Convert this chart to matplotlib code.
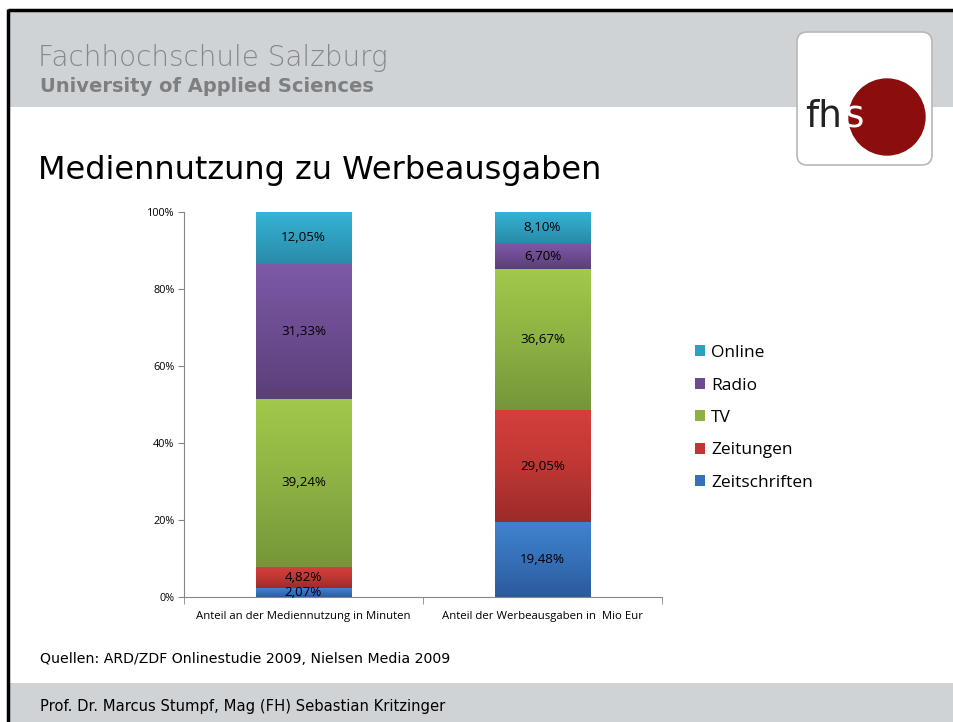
import matplotlib.pyplot as plt
import numpy as np
from matplotlib.patches import Rectangle, FancyBboxPatch, Circle
from matplotlib.colors import LinearSegmentedColormap

# data (labels as printed, bars are normalised to 100%)
categories = ['Anteil an der Mediennutzung in Minuten', 'Anteil der Werbeausgaben in  Mio Eur']
series = ['Zeitschriften', 'Zeitungen', 'TV', 'Radio', 'Online']
zeitschriften = [2.07, 19.48]
zeitungen = [4.82, 29.05]
tv = [39.24, 36.67]
radio = [31.33, 6.70]
online = [12.05, 8.10]
values = [zeitschriften, zeitungen, tv, radio, online]

col_top = ['#3f83d0', '#d43f3c', '#a2c94b', '#7e59a6', '#36b3d6']
col_bot = ['#2b5b9a', '#9c2b29', '#75963a', '#5a3f78', '#2a8ba7']
col_mid = ['#3670b8', '#bf3734', '#8db243', '#6d4c91', '#2f9fbf']

W, H = 954, 722
fig = plt.figure(figsize=(W / 100, H / 100), dpi=100)

# slide background
bg = fig.add_axes([0, 0, 1, 1])
bg.set_xlim(0, W)
bg.set_ylim(H, 0)
bg.axis('off')
bg.add_patch(Rectangle((8, 10), W, 97, color='#d0d3d6', lw=0))
bg.add_patch(Rectangle((8, 683), W, 40, color='#d0d3d6', lw=0))
bg.plot([8, W], [10, 10], color='black', lw=2.5, solid_capstyle='butt')
bg.plot([8, 8], [9, H], color='black', lw=2.5, solid_capstyle='butt')

bg.text(38, 58, 'Fachhochschule Salzburg', fontsize=20, color='#858789',
        fontweight='light', family='DejaVu Sans', va='center')
bg.text(40, 87, 'University of Applied Sciences', fontsize=14, color='#7d7f81',
        fontweight='bold', family='DejaVu Sans', va='center')
bg.text(38, 170, 'Mediennutzung zu Werbeausgaben', fontsize=23, color='black',
        family='DejaVu Sans', va='center')
bg.text(40, 659, 'Quellen: ARD/ZDF Onlinestudie 2009, Nielsen Media 2009', fontsize=10.2,
        color='black', family='DejaVu Sans', va='center')
bg.text(40, 706, 'Prof. Dr. Marcus Stumpf, Mag (FH) Sebastian Kritzinger', fontsize=10.6,
        color='black', family='DejaVu Sans', va='center')

# logo
bg.add_patch(FancyBboxPatch((802, 37), 125, 123, boxstyle='round,pad=5,rounding_size=10',
                            fc='white', ec='#b8b8b8', lw=1.2))
bg.add_patch(Circle((887, 117), 38, color='#8b0d0d'))
bg.text(805, 117, 'fh', fontsize=27, color='#222222', family='DejaVu Sans', va='center')
bg.text(845, 117, 's', fontsize=27, color='white', family='DejaVu Sans', va='center')

# chart
ax = fig.add_axes([184 / W, (H - 597) / H, (662 - 184) / W, (597 - 212) / H])
ax.set_facecolor('none')
x = np.arange(len(categories))
totals = np.sum(values, axis=0)
bottom = np.zeros(len(categories))
bw = 0.4
for i, name in enumerate(series):
    v = np.array(values[i])
    h = v / totals * 100
    bars = ax.bar(x, h, bw, bottom=bottom, color=col_mid[i], label=name, lw=0, zorder=2)
    cmap = LinearSegmentedColormap.from_list('g', [col_bot[i], col_mid[i], col_top[i]])
    grad = np.linspace(0, 1, 100).reshape(-1, 1)
    for b in bars:
        im = ax.imshow(grad, cmap=cmap, origin='lower', aspect='auto', zorder=2.5,
                       extent=[b.get_x(), b.get_x() + b.get_width(), b.get_y(), b.get_y() + b.get_height()])
        im.set_clip_path(b)
    for j in range(len(categories)):
        ax.text(x[j], bottom[j] + h[j] / 2, f'{v[j]:.2f}%'.replace('.', ','),
                ha='center', va='center', fontsize=9.6, family='Open Sans', zorder=4)
    bottom += h

ax.set_xlim(-0.5, 1.5)
ax.set_ylim(0, 100)
ax.set_yticks(np.arange(0, 101, 20))
ax.set_yticklabels([f'{t}%' for t in range(0, 101, 20)], fontsize=7.8, family='Open Sans')
ax.set_xticks(x)
ax.set_xticklabels(categories, fontsize=8.2, family='Open Sans')
ax.set_xticks([-0.5, 0.5, 1.5], minor=True)
ax.tick_params(axis='x', which='major', length=0, pad=10)
ax.tick_params(axis='x', which='minor', length=5, color='#868686')
ax.tick_params(axis='y', length=4, color='#868686', pad=3)
for s in ['top', 'right']:
    ax.spines[s].set_visible(False)
for s in ['left', 'bottom']:
    ax.spines[s].set_color('#868686')

handles, labels = ax.get_legend_handles_labels()
leg = fig.legend(handles[::-1], labels[::-1], loc='center left', bbox_to_anchor=(679 / W, 1 - 418 / H),
                 frameon=False, prop={'family': 'Open Sans', 'size': 12.5},
                 handlelength=0.6, handleheight=0.6, handletextpad=0.35, labelspacing=0.95)
for hnd, c in zip(leg.legend_handles, col_mid[::-1]):
    hnd.set_color(c)

fig.savefig('out.png', dpi=100)
